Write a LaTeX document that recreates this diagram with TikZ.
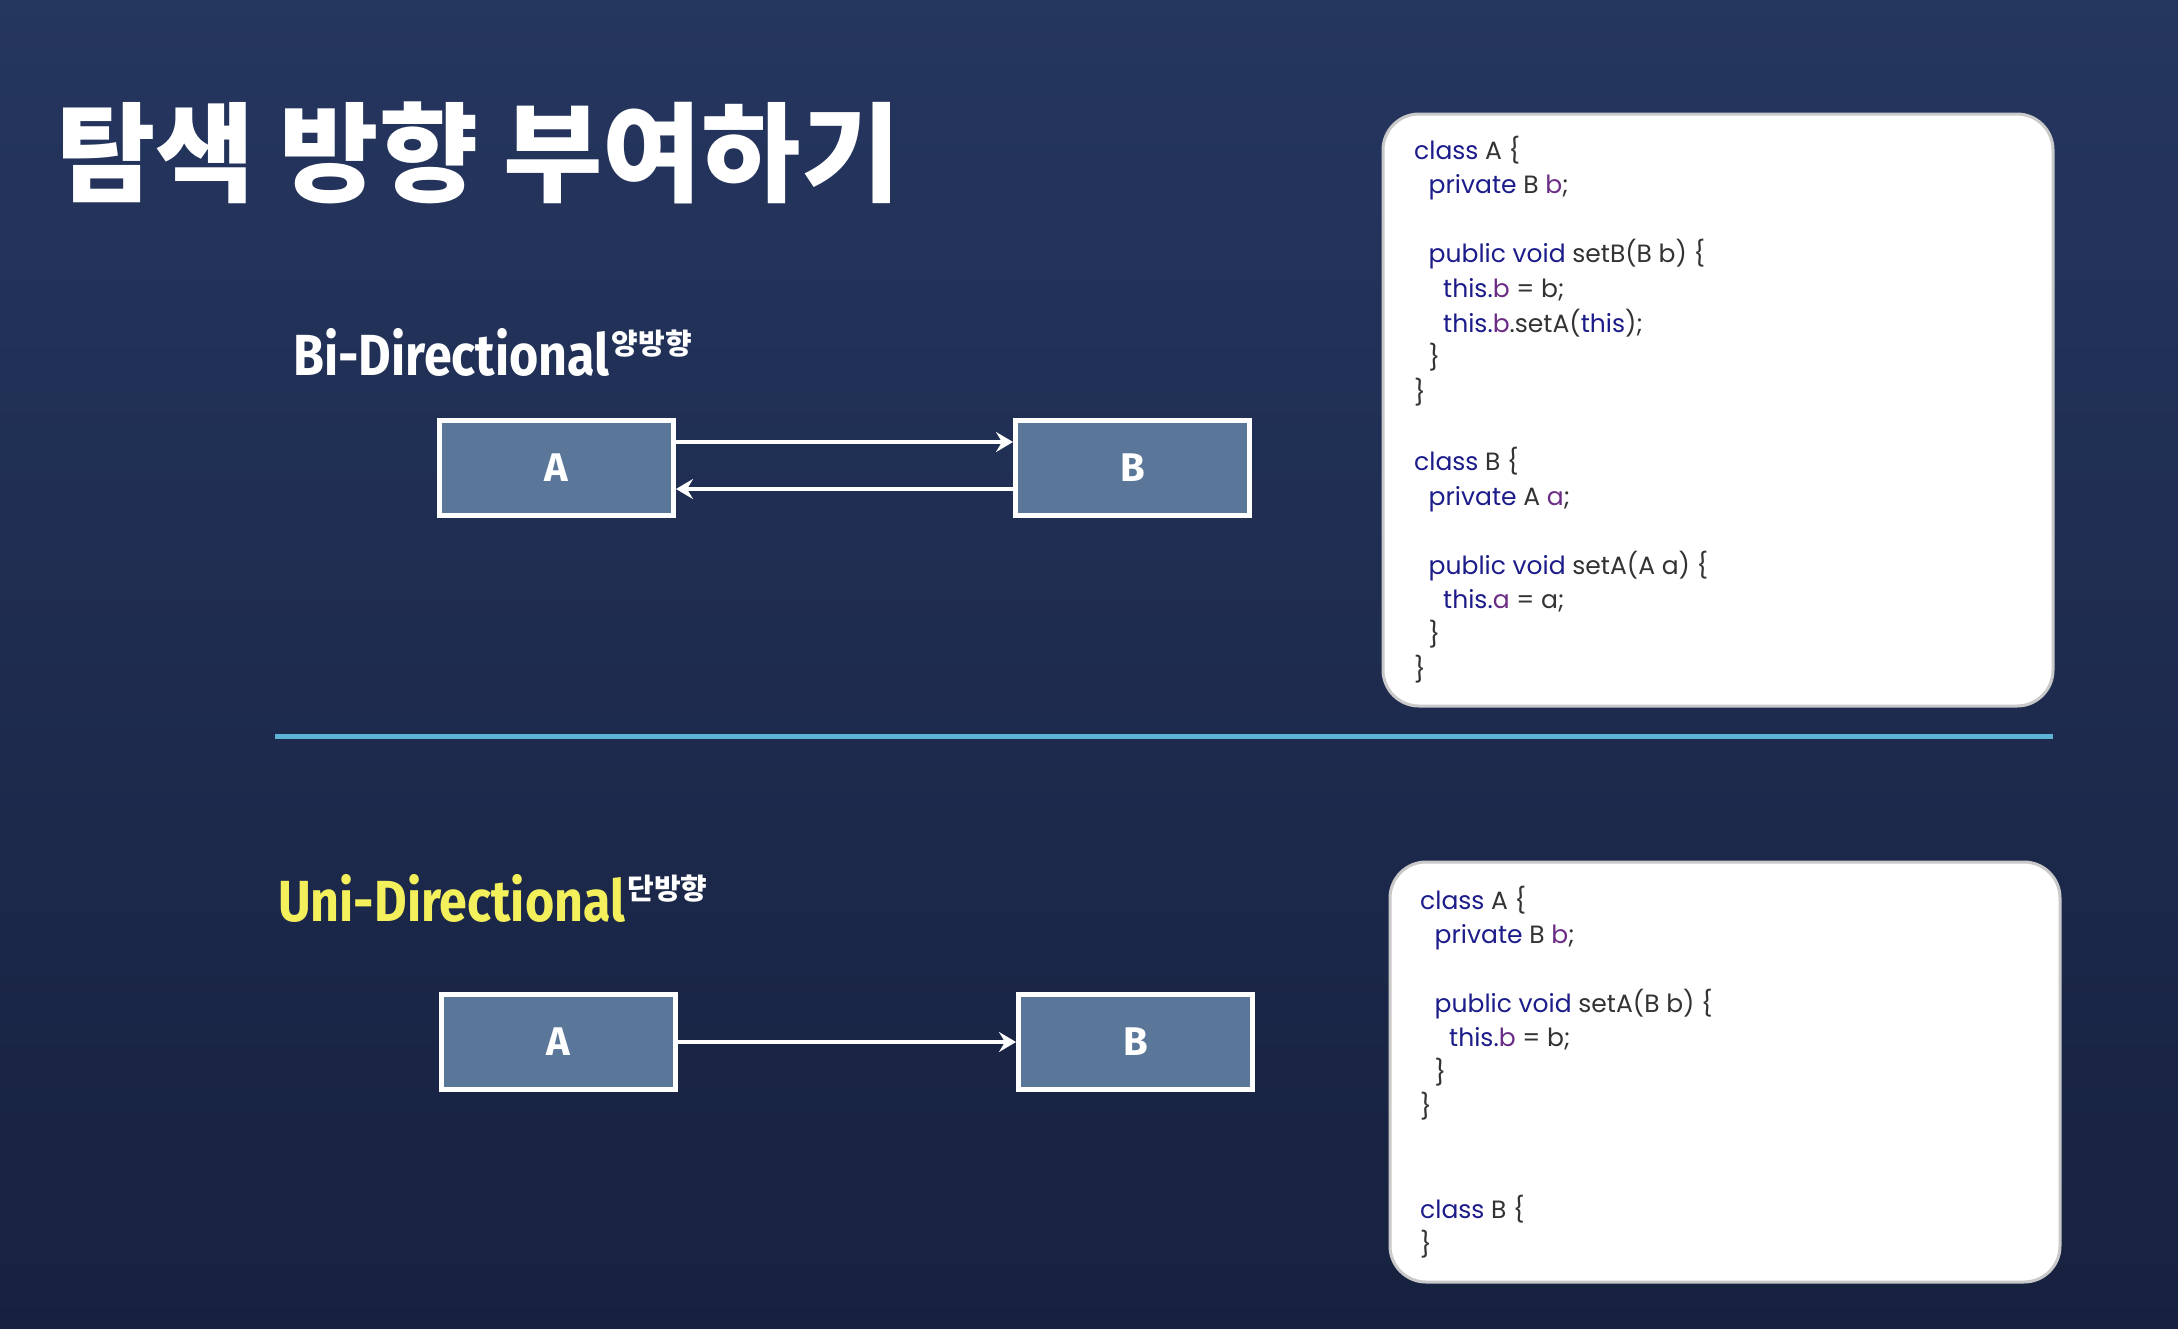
\documentclass[tikz,border=0pt]{standalone}
\usepackage{fontspec}
\usepackage{graphicx}
\usetikzlibrary{arrows.meta,calc}
\newfontfamily\codefont{Poppins}
\newfontfamily\lblfont{Fira Sans}
\newfontfamily\hanfont{Noto Sans CJK KR}
\definecolor{bgtop}{HTML}{25365F}
\definecolor{bgbot}{HTML}{17213F}
\definecolor{boxfill}{HTML}{5A7699}
\definecolor{sepline}{HTML}{5DB2D8}
\definecolor{unicol}{HTML}{F4F05C}
\definecolor{kwcol}{HTML}{1C1C8A}
\definecolor{idcol}{HTML}{333333}
\definecolor{fdcol}{HTML}{6B2C85}
\definecolor{codeedge}{HTML}{C9C9C9}
\newcommand{\kw}[1]{\textcolor{kwcol}{#1}}
\newcommand{\fd}[1]{\textcolor{fdcol}{#1}}

\tikzset{
  classbox/.style={draw=white, line width=5pt, fill=boxfill, minimum width=234pt, minimum height=95pt,
    inner sep=0pt, text=white, font=\lblfont\bfseries\fontsize{40}{40}\selectfont},
  conn/.style={draw=white, line width=4pt, -{Stealth[length=17pt,width=20pt,inset=6pt]}},
  codepanel/.style={draw=codeedge, line width=3pt, fill=white, rounded corners=36pt},
  codeline/.style={anchor=base west, inner sep=0pt, text=idcol, font=\codefont\fontsize{25}{30}\selectfont},
  sectionlbl/.style={anchor=base west, inner sep=0pt, font=\lblfont\bfseries\fontsize{58}{58}\selectfont},
  suplbl/.style={anchor=base west, inner sep=0pt, text=white, font=\hanfont\bfseries\fontsize{29}{29}\selectfont}
}

\begin{document}
\begin{tikzpicture}[x=1pt,y=1pt,yscale=-1,xscale=1]
\useasboundingbox (0,0) rectangle (2178,1328);
% background
\shade[top color=bgtop, bottom color=bgbot] (0,0) rectangle (2178,1328);

% title
\node[anchor=base west, inner sep=0pt, text=white, font=\hanfont\bfseries\fontsize{108}{108}\selectfont] (title) at (56,193) {탐색 방향 부여하기};

% bi-directional
\node[sectionlbl, text=white] (bilbl) at (293,375) {\scalebox{0.865}[1]{Bi-Directional}};
\node[suplbl] (bisup) at ($(bilbl.base east)+(2,-21)$) {양방향};

\node[classbox] (biA) at (556.5,468) {A};
\node[classbox] (biB) at (1132.5,468) {B};
\draw[conn] ($(biA.east)+(0,-26)$) -- ($(biB.west)+(0,-26)$);
\draw[conn] ($(biB.west)+(0,21)$) -- ($(biA.east)+(0,21)$);

% separator
\coordinate (sepL) at (275,736);
\coordinate (sepR) at (2053,736);
\draw[sepline, line width=5pt] (sepL) -- (sepR);

% uni-directional
\node[sectionlbl, text=unicol] (unilbl) at (278,921) {\scalebox{0.865}[1]{Uni-Directional}};
\node[suplbl] (unisup) at ($(unilbl.base east)+(2,-22)$) {단방향};

\node[classbox] (uniA) at (558.5,1042) {A};
\node[classbox] (uniB) at (1135.5,1042) {B};
\draw[conn] (uniA) -- (uniB);

% code panels
\draw[codepanel] (1383,114) rectangle (2053,706);
\draw[codepanel] (1390,862) rectangle (2060,1282);

\foreach \ln/\ind/\txt in {
  0/0/{\kw{class} A \{},
  1/1/{\kw{private} B \fd{b};},
  3/1/{\kw{public void} setB(B b) \{},
  4/2/{\kw{this.}\fd{b} = b;},
  5/2/{\kw{this.}\fd{b}.setA(\kw{this});},
  6/1/{\}},
  7/0/{\}},
  9/0/{\kw{class} B \{},
  10/1/{\kw{private} A \fd{a};},
  12/1/{\kw{public void} setA(A a) \{},
  13/2/{\kw{this.}\fd{a} = a;},
  14/1/{\}},
  15/0/{\}}}
  \node[codeline] at (1414+\ind*14.5, 159+\ln*34.6) {\txt};

\foreach \ln/\ind/\txt in {
  0/0/{\kw{class} A \{},
  1/1/{\kw{private} B \fd{b};},
  3/1/{\kw{public void} setA(B b) \{},
  4/2/{\kw{this.}\fd{b} = b;},
  5/1/{\}},
  6/0/{\}},
  9/0/{\kw{class} B \{},
  10/0/{\}}}
  \node[codeline] at (1420+\ind*14.5, 909+\ln*34.4) {\txt};

\end{tikzpicture}
\end{document}
